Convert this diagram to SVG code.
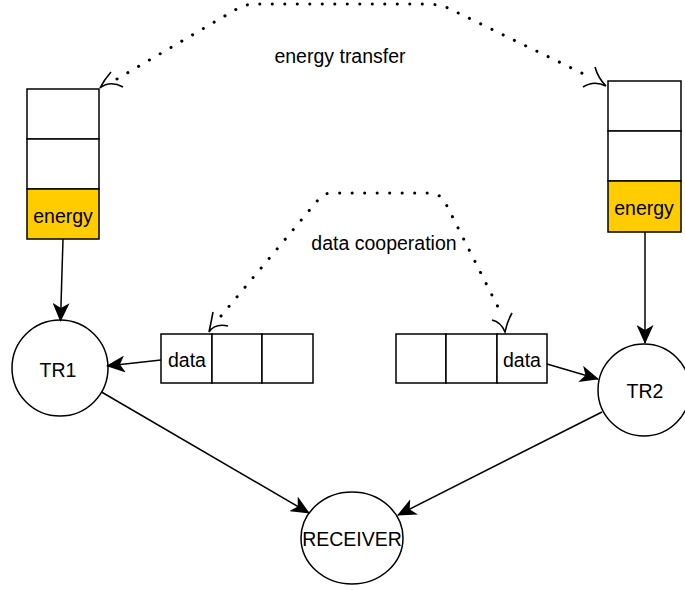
<svg xmlns="http://www.w3.org/2000/svg" width="685" height="590" viewBox="0 0 685 590">
<defs>
<marker id="arr" markerUnits="userSpaceOnUse" viewBox="0 0 19 17" refX="18" refY="8.5" markerWidth="19" markerHeight="17" orient="auto">
<path d="M0,0 L19,8.5 L0,17 L5,8.5 Z" fill="#000"/>
</marker>
<style>
text{font-family:"Liberation Sans",Arial,sans-serif;font-size:19.5px;fill:#000;text-anchor:middle}
.box{fill:#fff;stroke:#000;stroke-width:1.5}
.en{fill:#ffcc00;stroke:#000;stroke-width:1.5}
.node{fill:#fff;stroke:#000;stroke-width:1.5}
.edge{fill:none;stroke:#000;stroke-width:1.5}
.dot{fill:none;stroke:#000;stroke-width:3;stroke-dasharray:0.1 12.4;stroke-linecap:round}
.tip{fill:none;stroke:#000;stroke-width:1.6}
</style>
</defs>
<g id="stack-left">
<rect class="box" x="27" y="89" width="72" height="50"/>
<rect class="box" x="27" y="139" width="72" height="50"/>
<rect class="en" x="27" y="189" width="72" height="50"/>
<text x="63" y="223">energy</text>
</g>
<g id="stack-right">
<rect class="box" x="608" y="81" width="73" height="50"/>
<rect class="box" x="608" y="131" width="73" height="50"/>
<rect class="en" x="608" y="181" width="73" height="51"/>
<text x="644" y="215">energy</text>
</g>
<g id="data-left">
<rect class="box" x="161" y="334" width="51" height="49"/>
<rect class="box" x="212" y="334" width="50" height="49"/>
<rect class="box" x="262" y="334" width="51" height="49"/>
<text x="187" y="367">data</text>
</g>
<g id="data-right">
<rect class="box" x="396" y="334" width="50" height="49"/>
<rect class="box" x="446" y="334" width="51" height="49"/>
<rect class="box" x="497" y="334" width="50" height="49"/>
<text x="522" y="367">data</text>
</g>
<g id="TR1">
<circle class="node" cx="60" cy="368" r="48"/>
<text x="58" y="377">TR1</text>
</g>
<g id="TR2">
<circle class="node" cx="644" cy="390" r="46"/>
<text x="645" y="398">TR2</text>
</g>
<g id="RECEIVER">
<ellipse class="node" cx="352" cy="538" rx="51" ry="46"/>
<text x="352" y="546">RECEIVER</text>
</g>
<g id="connectors">
<path class="edge" d="M63,239 L60.5,321" marker-end="url(#arr)"/>
<path class="edge" d="M645,232 L645,343" marker-end="url(#arr)"/>
<path class="edge" d="M161,360 L107,366" marker-end="url(#arr)"/>
<path class="edge" d="M547,364 L598,379" marker-end="url(#arr)"/>
<path class="edge" d="M101.5,392 L309,513" marker-end="url(#arr)"/>
<path class="edge" d="M602,412 L398,515" marker-end="url(#arr)"/>
<path class="dot" d="M117,79 L235,10 Q245,4 255,4 L425,4 Q440,4 450,9 L592,78"/>
<path class="tip" d="M111,72 Q104,80 100,88 Q110,80 123,87"/>
<path class="tip" d="M595,67 Q598,78 606,86 Q594,80 583,87"/>
<path class="dot" d="M221,316 L318,200 Q323,193 332,193 L428,193 Q440,193 445,202 L503,317"/>
<path class="tip" d="M213,312 Q211,323 209,332 Q215,323 228,326"/>
<path class="tip" d="M512,313 Q507,322 505,332 Q501,322 492,320"/>
<text x="340" y="63">energy transfer</text>
<text x="384" y="250">data cooperation</text>
</g>
</svg>
